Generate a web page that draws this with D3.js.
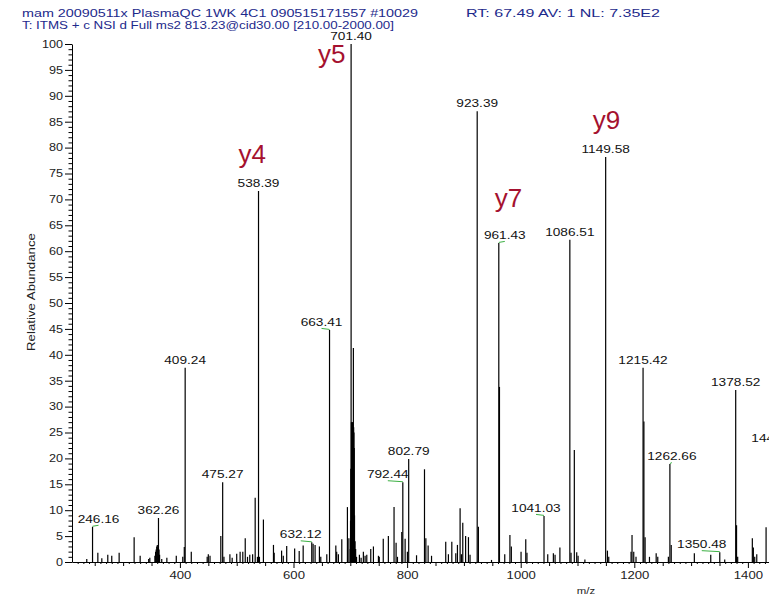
<!DOCTYPE html>
<html>
<head>
<meta charset="utf-8">
<script src="https://cdn.jsdelivr.net/npm/d3@7"></script>
<style>
  body { margin: 0; background: #fff; }
  text { font-family: "Liberation Sans", Arial, sans-serif; }
</style>
</head>
<body>
<svg id="chart" width="781" height="596"></svg>
<script>
// ---- Spectrum data: centroid m/z and relative abundance (%) ----
const peakMz = [
  236, 246.16, 255.5, 262.5, 273, 280, 293, 319.4, 330, 345, 347,
  355.9, 357.2, 358.2, 359.2, 360.2, 361.2, 362.26, 363.3, 364.2, 368, 377, 393.6,
  405, 407.7, 409.24, 420, 448, 450, 453, 472, 475.27, 477.5, 488, 492, 500, 506,
  510.7, 515, 519, 523, 528, 532.5, 536.5, 538.39, 540, 547, 564.7, 566, 579, 582,
  588, 602, 610, 617, 632.12, 634.5, 638, 645.6, 648, 658.6, 663.41, 674.5, 676,
  679, 685, 694.9, 697.5, 699.9, 700.4, 700.9, 701.40, 701.9, 702.4, 702.9, 703.4,
  703.9, 704.4, 704.9, 705.4, 705.9, 706.4, 706.9, 707.4, 708.4, 709.4, 711, 716,
  719, 723, 726, 729, 736, 740.7, 749.5, 751, 758, 767, 777, 780.6, 783, 790.6,
  792.44, 796.5, 800.5, 802.79, 816.6, 830.6, 833, 837, 843, 868, 872.7, 878.7,
  885.7, 888.6, 893.3, 895.6, 898, 903, 908, 910.8, 923.39, 925.5, 948.6, 961.43,
  962.6, 971.9, 981, 983.5, 1000.6, 1008.9, 1011, 1041.03, 1047.6, 1057.5, 1060.5,
  1069, 1086.51, 1088.6, 1094.4, 1098.6, 1101, 1113, 1149.58, 1152.7, 1155, 1194.3,
  1196, 1199, 1203, 1215.42, 1216.9, 1219, 1226.7, 1238.5, 1241.3, 1260, 1262.66,
  1265, 1305.7, 1334.6, 1350.48, 1359.2, 1378.52, 1380, 1382, 1407.8, 1409.6, 1412,
  1415.6, 1432, 1449.51
];
const peakRel = [
  0.6, 6.8, 1.8, 0.7, 1.4, 1.2, 1.8, 4.8, 1.2, 0.6, 0.8,
  1.2, 2.0, 2.4, 3.0, 3.3, 2.8, 8.5, 2.4, 1.4, 0.6, 0.8, 1.2,
  1.0, 2.9, 37.5, 2.0, 1.0, 1.5, 1.2, 5.0, 15.4, 1.0, 1.5, 0.8, 1.6, 2.0,
  2.0, 4.6, 1.0, 1.4, 1.5, 12.4, 1.0, 71.6, 1.0, 8.2, 3.3, 1.8, 2.2, 1.2,
  3.1, 2.6, 2.1, 3.2, 3.8, 3.5, 3.3, 3.0, 1.0, 1.5, 44.8, 3.2, 2.0,
  1.5, 4.4, 10.6, 4.6, 2.5, 8.0, 18.0, 100, 27.0, 26.0, 27.0, 26.0,
  27.0, 26.0, 25.0, 41.3, 26.0, 25.0, 22.0, 9.0, 4.0, 2.5, 1.0, 1.4,
  0.8, 2.0, 1.2, 1.4, 2.5, 3.0, 1.2, 1.0, 4.5, 5.0, 10.6, 3.7, 1.0, 5.8,
  15.4, 4.5, 2.0, 19.9, 1.3, 17.9, 4.6, 3.2, 1.2, 3.9, 1.5, 3.9,
  1.7, 3.3, 10.4, 1.5, 7.6, 5.0, 4.8, 1.4, 87.0, 6.8, 0.4, 61.6,
  33.8, 1.5, 5.2, 3.0, 2.0, 4.4, 1.8, 8.9, 1.5, 1.7, 1.4,
  2.8, 62.2, 1.8, 21.6, 1.9, 1.2, 0.5, 78.2, 2.2, 1.0, 2.0,
  5.2, 2.0, 1.0, 37.5, 27.1, 4.8, 1.0, 1.7, 1.0, 1.0, 18.9,
  3.3, 1.7, 1.4, 1.9, 0.5, 33.2, 7.1, 1.0, 4.6, 2.8, 1.0,
  1.5, 6.7, 22.4
];

// Peaks annotated with their m/z value
const labelMz = [246.16, 362.26, 409.24, 475.27, 538.39, 632.12, 663.41, 701.40,
  792.44, 802.79, 923.39, 961.43, 1041.03, 1086.51, 1149.58, 1215.42, 1262.66,
  1350.48, 1378.52, 1449.51];
// horizontal shift of each annotation (px); shifted ones get a green leader
const labelShift = [6, 0, 0, 0, 0, -11, -8, 0, -15, 0, 0, 6, -8, 0, 0, 0, 2, -18, 0, 0];

// Fragment-ion assignments
const ionNames = ["y4", "y5", "y7", "y9"];
const ionMz = [538.39, 701.40, 961.43, 1149.58];
const ionDx = [-20, -33, -4, -13];
const ionDy = [-28, 19, -36, -28];

// Axis ticks
const xTickLabels = [400, 600, 800, 1000, 1200, 1400];
const yTickLabels = d3.range(0, 101, 5);

// Header lines
const headerLine1a = "mam 20090511x PlasmaQC  1WK 4C1 090515171557 #10029";
const headerLine1b = "RT: 67.49  AV: 1  NL: 7.35E2";
const headerLine2 = "T: ITMS + c NSI d Full ms2 813.23@cid30.00 [210.00-2000.00]";

// ---- Drawing ----
const svg = d3.select("#chart");
const x = d3.scaleLinear().domain([210, 1500]).range([72, 804.7]);
const y = d3.scaleLinear().domain([0, 100]).range([562, 44]);

svg.append("defs").append("clipPath").attr("id", "plotclip")
  .append("rect").attr("x", 0).attr("y", 0).attr("width", 769).attr("height", 596);

const g = svg.append("g").attr("clip-path", "url(#plotclip)");

// widen glyphs horizontally, keeping the text's anchor point
function stretch(sel, k, anchor) {
  sel.each(function () {
    const t = d3.select(this);
    const w = this.getComputedTextLength();
    const x0 = +t.attr("x");
    t.attr("text-anchor", "start")
     .attr("textLength", w * k)
     .attr("lengthAdjust", "spacingAndGlyphs");
    if (anchor === "middle") t.attr("x", x0 - w * k / 2);
    else if (anchor === "end") t.attr("x", x0 - w * k);
  });
}

// header
const hdrColor = "#1d2a8c";
g.append("text").attr("x", 22).attr("y", 17).attr("font-size", 11.5).attr("fill", hdrColor)
  .attr("textLength", 396).attr("lengthAdjust", "spacingAndGlyphs").text(headerLine1a);
g.append("text").attr("x", 466).attr("y", 17).attr("font-size", 11.5).attr("fill", hdrColor)
  .attr("textLength", 194).attr("lengthAdjust", "spacingAndGlyphs").text(headerLine1b);
g.append("text").attr("x", 22).attr("y", 29).attr("font-size", 11.5).attr("fill", hdrColor)
  .attr("textLength", 372).attr("lengthAdjust", "spacingAndGlyphs").text(headerLine2);

// y axis
const yAxis = g.append("g").attr("transform", "translate(72,0)")
  .call(d3.axisLeft(y).tickValues(yTickLabels).tickSize(7).tickSizeOuter(0).tickPadding(2));
yAxis.select(".domain").attr("stroke", "#000");
yAxis.selectAll("text").attr("font-size", 10.5).attr("fill", "#222")
  .attr("font-family", "'Liberation Sans', Arial, sans-serif")
  .each(function () { d3.select(this).attr("x", -9); })
  .call(stretch, 1.2, "end");
g.append("g").attr("transform", "translate(72,0)")
  .call(d3.axisLeft(y).tickValues(d3.range(0, 101, 1).filter(v => v % 5)).tickSize(3.5).tickFormat(""))
  .select(".domain").remove();

// x axis
const xAxis = g.append("g").attr("transform", "translate(0,562)")
  .call(d3.axisBottom(x).tickValues(xTickLabels).tickFormat(d3.format("d"))
    .tickSize(6).tickSizeOuter(0).tickPadding(4));
xAxis.select(".domain").attr("stroke", "#000");
xAxis.selectAll("text").attr("font-size", 10.5).attr("fill", "#222")
  .attr("font-family", "'Liberation Sans', Arial, sans-serif")
  .call(stretch, 1.25, "middle");
g.append("g").attr("transform", "translate(0,562)")
  .call(d3.axisBottom(x).tickValues(d3.range(250, 1500, 50).filter(v => v % 200)).tickSize(4).tickFormat(""))
  .select(".domain").remove();
g.append("g").attr("transform", "translate(0,562)")
  .call(d3.axisBottom(x).tickValues(d3.range(220, 1500, 10).filter(v => v % 50)).tickSize(2).tickFormat(""))
  .select(".domain").remove();

// axis titles
g.append("text").attr("x", 586).attr("y", 594).attr("font-size", 9.5).attr("fill", "#222")
  .text("m/z").call(stretch, 1.2, "middle");
g.append("text").attr("transform", "translate(35,292) rotate(-90)")
  .attr("x", -59).attr("y", 0).attr("font-size", 10).attr("fill", "#222")
  .attr("textLength", 118).attr("lengthAdjust", "spacingAndGlyphs").text("Relative Abundance");

// sticks
const peaks = peakMz.map((m, i) => ({ mz: m, rel: peakRel[i] }));
g.append("g").selectAll("line").data(peaks).join("line")
  .attr("x1", d => x(d.mz)).attr("x2", d => x(d.mz))
  .attr("y1", y(0)).attr("y2", d => y(d.rel))
  .attr("stroke", "#000").attr("stroke-width", 1.2);

// m/z annotations
const relOf = m => peakRel[peakMz.indexOf(m)];
const labels = labelMz.map((m, i) => ({ mz: m, rel: relOf(m), dx: labelShift[i] }));
const lg = g.append("g");
labels.forEach(d => {
  const px = x(d.mz), py = y(d.rel);
  const cx = px + d.dx, base = py - 4;
  if (d.dx !== 0) {
    lg.append("path")
      .attr("d", `M${cx},${base + 2.5} L${px},${py - 0.5}`)
      .attr("stroke", "#3cb043").attr("stroke-width", 1).attr("fill", "none");
  }
  lg.append("text").attr("x", cx).attr("y", base)
    .attr("font-size", 10.5).attr("fill", "#111")
    .text(d.mz.toFixed(2)).call(stretch, 1.3, "middle");
});

// ion labels
ionNames.forEach((n, i) => {
  const m = ionMz[i];
  g.append("text")
    .attr("x", x(m) + ionDx[i]).attr("y", y(relOf(m)) + ionDy[i])
    .attr("font-family", "'Open Sans', 'Noto Sans', sans-serif")
    .attr("font-size", 26).attr("fill", "#a5112f").text(n);
});
</script>
</body>
</html>
